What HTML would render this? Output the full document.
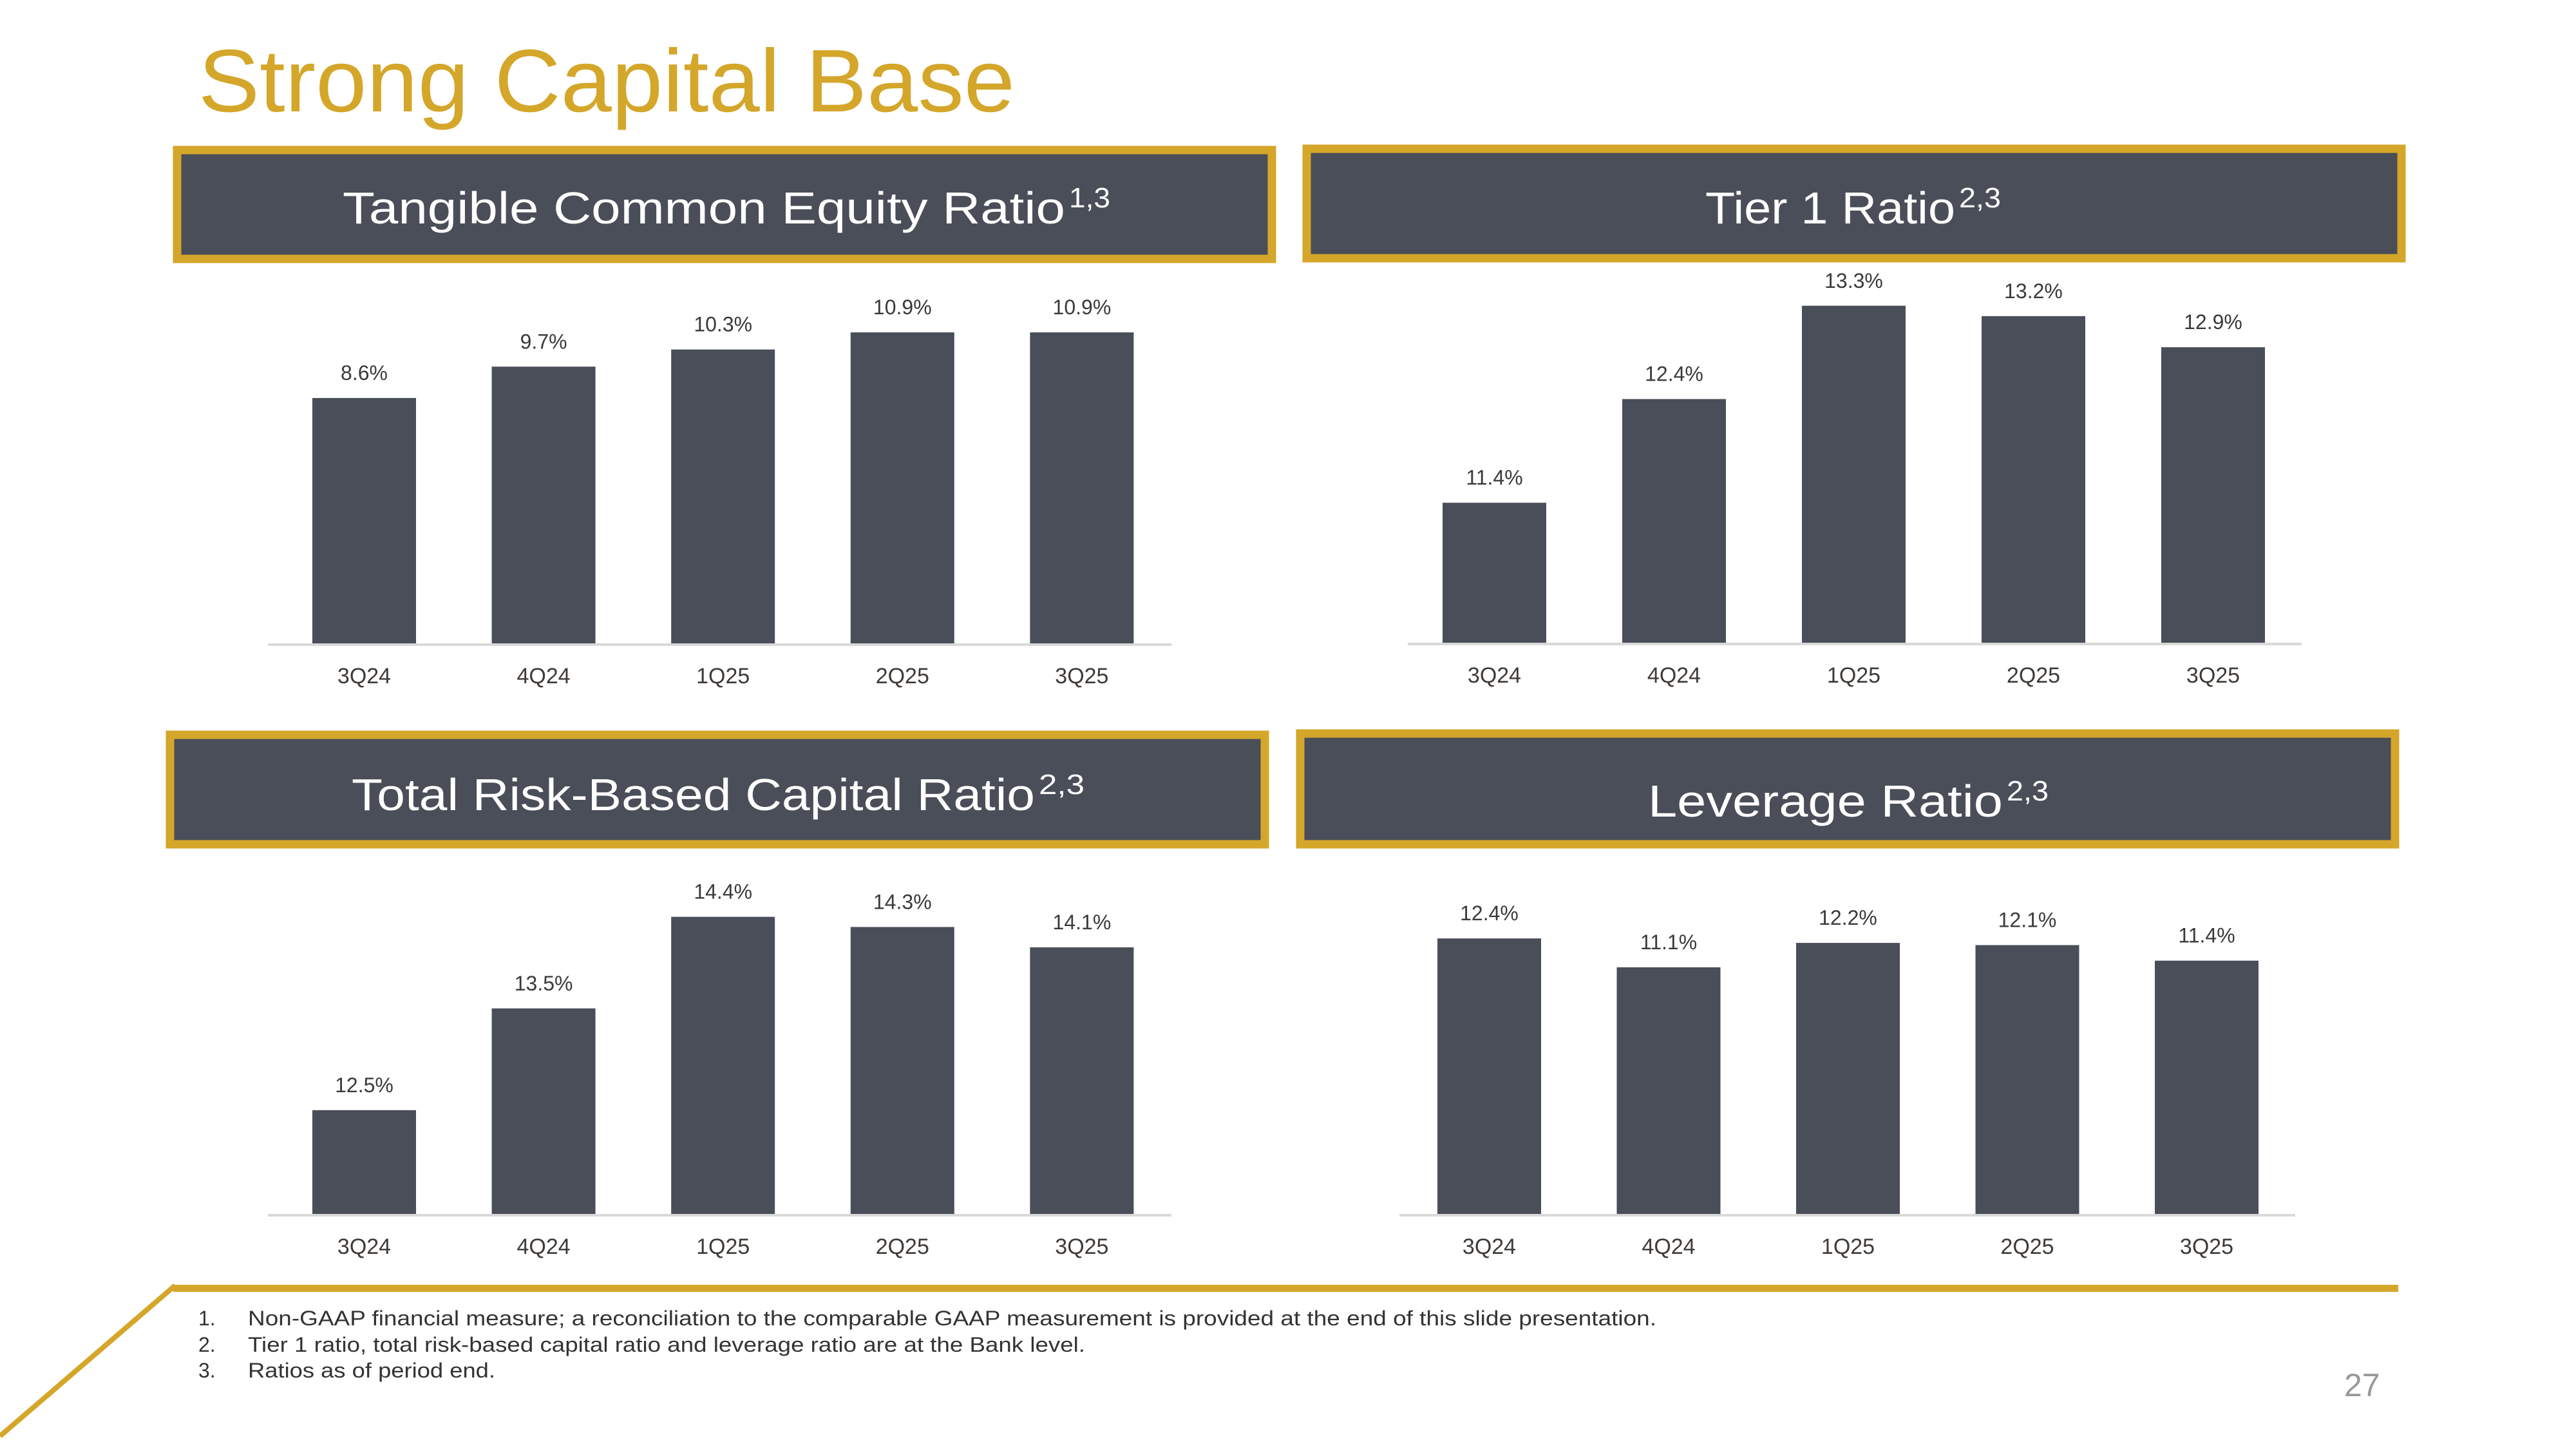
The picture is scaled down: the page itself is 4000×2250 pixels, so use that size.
<!DOCTYPE html>
<html><head><meta charset="utf-8"><style>
html,body{margin:0;padding:0;background:#fff;}
svg{display:block;font-family:"Liberation Sans",sans-serif;}
</style></head><body>
<svg id="slide" width="4000" height="2250" viewBox="0 0 4000 2250" xmlns="http://www.w3.org/2000/svg">
<text x="308" y="173" font-size="138" fill="#D4A62A" textLength="1268" lengthAdjust="spacingAndGlyphs">Strong Capital Base</text>

<g>
<rect x="275" y="233" width="1700" height="169" fill="#4A4E58" stroke="#D4A62A" stroke-width="13"/>
<text x="532" y="347" font-size="70" fill="#fff" textLength="1122" lengthAdjust="spacingAndGlyphs">Tangible Common Equity Ratio</text>
<text x="1660" y="322" font-size="44" fill="#fff" textLength="64" lengthAdjust="spacingAndGlyphs">1,3</text>
</g>
<g>
<rect x="2029" y="231" width="1700" height="170" fill="#4A4E58" stroke="#D4A62A" stroke-width="13"/>
<text x="2648" y="347" font-size="70" fill="#fff" textLength="388" lengthAdjust="spacingAndGlyphs">Tier 1 Ratio</text>
<text x="3042" y="322" font-size="44" fill="#fff" textLength="65" lengthAdjust="spacingAndGlyphs">2,3</text>
</g>
<g>
<rect x="264" y="1141" width="1700" height="170" fill="#4A4E58" stroke="#D4A62A" stroke-width="13"/>
<text x="546" y="1258" font-size="70" fill="#fff" textLength="1061" lengthAdjust="spacingAndGlyphs">Total Risk-Based Capital Ratio</text>
<text x="1613" y="1233" font-size="44" fill="#fff" textLength="71" lengthAdjust="spacingAndGlyphs">2,3</text>
</g>
<g>
<rect x="2019" y="1139" width="1700" height="172" fill="#4A4E58" stroke="#D4A62A" stroke-width="13"/>
<text x="2559" y="1268" font-size="70" fill="#fff" textLength="551" lengthAdjust="spacingAndGlyphs">Leverage Ratio</text>
<text x="3116" y="1243" font-size="44" fill="#fff" textLength="65" lengthAdjust="spacingAndGlyphs">2,3</text>
</g>

<g id="charts"></g>

<g>
<rect x="269" y="1995" width="3455" height="11" fill="#D4A62A"/>
<line x1="272" y1="1996" x2="0" y2="2230" stroke="#D4A62A" stroke-width="8"/>
<g font-size="32" fill="#333">
<text x="308" y="2058">1.</text>
<text x="385" y="2058" textLength="2187" lengthAdjust="spacingAndGlyphs">Non-GAAP financial measure; a reconciliation to the comparable GAAP measurement is provided at the end of this slide presentation.</text>
<text x="308" y="2099">2.</text>
<text x="385" y="2099" textLength="1300" lengthAdjust="spacingAndGlyphs">Tier 1 ratio, total risk-based capital ratio and leverage ratio are at the Bank level.</text>
<text x="308" y="2139">3.</text>
<text x="385" y="2139" textLength="384" lengthAdjust="spacingAndGlyphs">Ratios as of period end.</text>
</g>
<text x="3640" y="2168" font-size="50" fill="#999">27</text>
</g>
</svg>
<script>
const categories = ["3Q24","4Q24","1Q25","2Q25","3Q25"];
const tceValues = [8.6, 9.7, 10.3, 10.9, 10.9];
const tier1Values = [11.4, 12.4, 13.3, 13.2, 12.9];
const trbcValues = [12.5, 13.5, 14.4, 14.3, 14.1];
const leverageValues = [12.4, 11.1, 12.2, 12.1, 11.4];

const NS = "http://www.w3.org/2000/svg";
const root = document.getElementById('charts');
function mk(tag, attrs, parent){
  const e = document.createElementNS(NS, tag);
  for (const k in attrs) e.setAttribute(k, attrs[k]);
  parent.appendChild(e);
  return e;
}
function drawChart(name, values, cfg){
  const g = mk('g', {}, root);
  
  
  const y = v => cfg.base - (v - cfg.min) * cfg.k;
  const x = i => cfg.x0 + i * cfg.step;
  const ax = mk('line', {x1: cfg.ax0, x2: cfg.ax1, y1: cfg.base + 2, y2: cfg.base + 2, stroke: '#D9D9D9', 'stroke-width': 4}, g);
  
  
  values.forEach((v, i) => {
    const r = mk('rect', {x: x(i), y: y(v), width: cfg.bw, height: cfg.base - y(v), fill: '#4A4E58'}, g);
    
    
    const t = mk('text', {x: x(i) + cfg.bw / 2, y: y(v) - 28, 'text-anchor': 'middle', 'font-size': 32, fill: '#3a3a3a'}, g);
    t.textContent = v.toFixed(1) + '%';
    
    
    const c = mk('text', {x: x(i) + cfg.bw / 2, y: cfg.base + 62, 'text-anchor': 'middle', 'font-size': 34, fill: '#3f3a36'}, g);
    c.textContent = categories[i];
    
    
  });
}
drawChart('tce-chart', tceValues, {base: 999, min: 0, k: 44.3, x0: 485, step: 278.6, bw: 161, ax0: 416, ax1: 1819});
drawChart('tier1-chart', tier1Values, {base: 998, min: 10.05, k: 161, x0: 2240, step: 279, bw: 161, ax0: 2186, ax1: 3574});
drawChart('trbc-chart', trbcValues, {base: 1885, min: 11.48, k: 158, x0: 485, step: 278.6, bw: 161, ax0: 416, ax1: 1819});
drawChart('leverage-chart', leverageValues, {base: 1885, min: 0, k: 34.5, x0: 2232, step: 278.5, bw: 161, ax0: 2173, ax1: 3564});
</script>
</body></html>
